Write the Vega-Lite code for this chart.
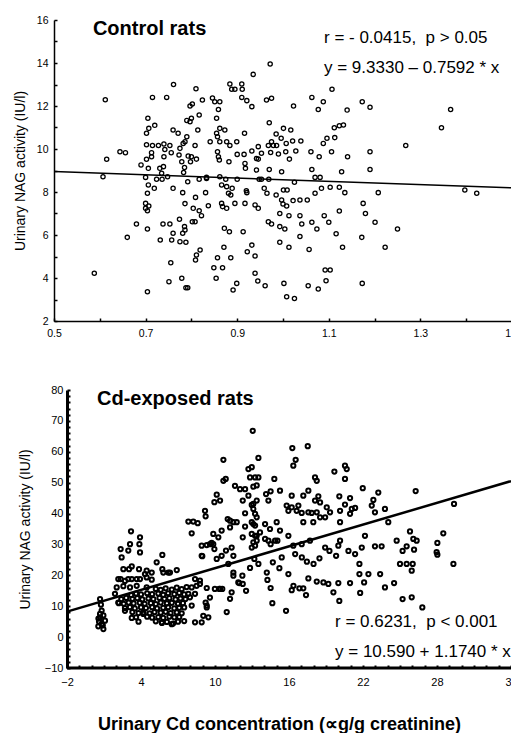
{
  "$schema": "https://vega.github.io/schema/vega-lite/v6.json",
  "padding": {"left": 13, "top": 15, "right": 0, "bottom": 0},
  "background": "white",
  "spacing": 45,
  "config": {
    "view": {"stroke": null},
    "font": "Liberation Sans",
    "axis": {"labelFont": "Liberation Sans", "titleFont": "Liberation Sans", "grid": false, "domainColor": "black", "tickColor": "black", "labelColor": "black", "titleColor": "black", "titleFontWeight": "normal"}
  },
  "datasets": {
    "control": [
      {"x":0.612,"y":12.29},{"x":0.615,"y":9.52},{"x":0.644,"y":9.87},{"x":0.656,"y":9.83},{"x":0.761,"y":13.0},{"x":0.715,"y":12.4},{"x":0.746,"y":12.4},{"x":0.705,"y":11.43},{"x":0.72,"y":11.1},{"x":0.707,"y":10.96},{"x":0.702,"y":10.73},{"x":0.702,"y":10.2},{"x":0.715,"y":10.16},{"x":0.728,"y":10.16},{"x":0.74,"y":10.23},{"x":0.753,"y":10.16},{"x":0.742,"y":9.98},{"x":0.756,"y":9.83},{"x":0.74,"y":9.64},{"x":0.713,"y":9.83},{"x":0.713,"y":9.64},{"x":0.702,"y":9.52},{"x":0.69,"y":9.26},{"x":0.706,"y":9.1},{"x":0.739,"y":9.18},{"x":0.731,"y":9.1},{"x":0.735,"y":8.87},{"x":0.775,"y":10.03},{"x":0.782,"y":10.26},{"x":0.786,"y":10.34},{"x":0.79,"y":10.57},{"x":0.773,"y":9.72},{"x":0.779,"y":9.41},{"x":0.785,"y":9.14},{"x":0.783,"y":8.91},{"x":0.76,"y":10.88},{"x":0.771,"y":10.73},{"x":0.79,"y":11.33},{"x":0.797,"y":11.27},{"x":0.8,"y":11.43},{"x":0.797,"y":12.0},{"x":0.802,"y":12.09},{"x":0.81,"y":12.8},{"x":0.817,"y":11.58},{"x":0.824,"y":12.28},{"x":0.814,"y":10.88},{"x":0.808,"y":10.16},{"x":0.793,"y":9.67},{"x":0.8,"y":9.64},{"x":0.811,"y":9.53},{"x":0.798,"y":9.41},{"x":0.833,"y":8.63},{"x":0.846,"y":12.37},{"x":0.851,"y":12.2},{"x":0.862,"y":12.2},{"x":0.859,"y":11.84},{"x":0.855,"y":11.43},{"x":0.841,"y":10.34},{"x":0.862,"y":10.34},{"x":0.855,"y":10.73},{"x":0.862,"y":10.96},{"x":0.873,"y":10.88},{"x":0.857,"y":10.57},{"x":0.877,"y":10.34},{"x":0.884,"y":10.16},{"x":0.857,"y":9.87},{"x":0.859,"y":9.64},{"x":0.861,"y":9.49},{"x":0.882,"y":9.41},{"x":0.884,"y":13.02},{"x":0.895,"y":12.78},{"x":0.91,"y":13.02},{"x":0.911,"y":12.78},{"x":0.888,"y":12.78},{"x":0.91,"y":12.4},{"x":0.921,"y":12.25},{"x":0.932,"y":11.97},{"x":0.935,"y":13.47},{"x":0.916,"y":10.73},{"x":0.899,"y":10.34},{"x":0.9,"y":9.75},{"x":0.915,"y":9.75},{"x":0.917,"y":9.33},{"x":0.918,"y":9.1},{"x":0.932,"y":9.91},{"x":0.946,"y":10.11},{"x":0.942,"y":9.56},
      {"x":0.607,"y":8.71},{"x":0.7,"y":8.68},{"x":0.706,"y":8.33},{"x":0.719,"y":8.17},{"x":0.724,"y":8.59},{"x":0.736,"y":8.59},{"x":0.748,"y":8.71},{"x":0.704,"y":7.94},{"x":0.7,"y":7.47},{"x":0.707,"y":7.35},{"x":0.7,"y":7.24},{"x":0.704,"y":7.13},{"x":0.68,"y":6.51},{"x":0.66,"y":5.89},{"x":0.704,"y":6.28},{"x":0.738,"y":6.51},{"x":0.753,"y":6.51},{"x":0.732,"y":5.77},{"x":0.76,"y":8.17},{"x":0.781,"y":7.97},{"x":0.786,"y":7.46},{"x":0.76,"y":6.08},{"x":0.757,"y":5.77},{"x":0.775,"y":5.69},{"x":0.788,"y":5.66},{"x":0.781,"y":6.08},{"x":0.774,"y":6.73},{"x":0.785,"y":6.39},{"x":0.786,"y":6.23},{"x":0.755,"y":4.71},{"x":0.751,"y":3.83},{"x":0.704,"y":3.36},{"x":0.588,"y":4.22},{"x":0.779,"y":3.99},{"x":0.788,"y":3.55},{"x":0.792,"y":3.55},{"x":0.809,"y":4.84},{"x":0.811,"y":5.07},{"x":0.819,"y":5.3},{"x":0.802,"y":6.62},{"x":0.808,"y":6.62},{"x":0.804,"y":7.24},{"x":0.817,"y":7.13},{"x":0.822,"y":6.9},{"x":0.809,"y":7.75},{"x":0.831,"y":7.97},{"x":0.837,"y":7.36},{"x":0.817,"y":8.59},{"x":0.833,"y":8.68},{"x":0.792,"y":8.48},{"x":0.849,"y":4.48},{"x":0.854,"y":3.99},{"x":0.868,"y":4.48},{"x":0.857,"y":4.94},{"x":0.891,"y":3.44},{"x":0.899,"y":3.75},{"x":0.886,"y":4.94},{"x":0.871,"y":5.43},{"x":0.883,"y":6.15},{"x":0.872,"y":6.31},{"x":0.862,"y":8.71},{"x":0.866,"y":8.33},{"x":0.877,"y":8.25},{"x":0.875,"y":8.59},{"x":0.866,"y":7.47},{"x":0.868,"y":7.32},{"x":0.877,"y":7.24},{"x":0.895,"y":7.47},{"x":0.881,"y":7.94},{"x":0.886,"y":7.86},{"x":0.889,"y":8.17},{"x":0.9,"y":8.59},{"x":0.917,"y":7.47},{"x":0.921,"y":7.97},{"x":0.92,"y":8.06},{"x":0.913,"y":6.15},{"x":0.932,"y":5.53},{"x":0.922,"y":5.22},{"x":0.939,"y":5.02},{"x":0.939,"y":4.22},{"x":0.945,"y":3.86},{"x":0.939,"y":7.4},{"x":0.946,"y":7.24},{"x":0.948,"y":8.59},
      {"x":0.972,"y":13.95},{"x":0.964,"y":12.28},{"x":0.975,"y":12.36},{"x":1.023,"y":12.0},{"x":1.063,"y":12.4},{"x":1.077,"y":11.84},{"x":1.088,"y":12.2},{"x":1.107,"y":12.78},{"x":1.14,"y":11.81},{"x":1.173,"y":12.2},{"x":1.19,"y":11.94},{"x":1.366,"y":11.84},{"x":1.346,"y":10.99},{"x":1.268,"y":10.16},{"x":0.97,"y":11.22},{"x":1.001,"y":10.96},{"x":1.017,"y":10.88},{"x":0.985,"y":10.7},{"x":0.996,"y":10.5},{"x":0.975,"y":10.34},{"x":1.007,"y":10.26},{"x":1.021,"y":10.37},{"x":1.039,"y":10.37},{"x":0.968,"y":10.16},{"x":0.979,"y":10.16},{"x":0.986,"y":10.16},{"x":0.953,"y":9.8},{"x":0.946,"y":9.53},{"x":0.973,"y":9.84},{"x":0.99,"y":9.77},{"x":1.006,"y":9.87},{"x":1.014,"y":9.53},{"x":1.028,"y":9.91},{"x":1.061,"y":9.87},{"x":1.079,"y":9.64},{"x":1.106,"y":9.87},{"x":1.141,"y":9.64},{"x":1.19,"y":9.87},{"x":1.088,"y":10.26},{"x":1.096,"y":10.5},{"x":1.113,"y":10.53},{"x":1.112,"y":10.99},{"x":1.123,"y":11.08},{"x":1.132,"y":11.12},{"x":1.063,"y":9.05},{"x":1.128,"y":8.94},{"x":1.19,"y":9.05},{"x":0.997,"y":8.94},{"x":0.942,"y":9.02},{"x":0.97,"y":9.05},
      {"x":1.397,"y":8.09},{"x":1.423,"y":7.94},{"x":1.208,"y":7.97},{"x":0.953,"y":8.59},{"x":0.969,"y":8.59},{"x":1.025,"y":8.45},{"x":1.07,"y":8.68},{"x":1.081,"y":8.68},{"x":1.084,"y":8.17},{"x":1.103,"y":8.22},{"x":1.123,"y":8.22},{"x":1.135,"y":7.97},{"x":0.959,"y":8.17},{"x":0.965,"y":7.94},{"x":0.985,"y":7.86},{"x":1.001,"y":8.09},{"x":1.009,"y":8.09},{"x":1.07,"y":7.94},{"x":0.997,"y":7.63},{"x":1.0,"y":7.44},{"x":1.008,"y":7.35},{"x":1.022,"y":7.6},{"x":1.037,"y":7.63},{"x":1.053,"y":7.63},{"x":0.993,"y":7.0},{"x":1.013,"y":6.9},{"x":1.037,"y":6.9},{"x":1.041,"y":6.51},{"x":1.063,"y":6.59},{"x":1.074,"y":6.28},{"x":1.09,"y":6.9},{"x":1.1,"y":6.59},{"x":1.123,"y":7.12},{"x":1.116,"y":6.06},{"x":0.968,"y":6.62},{"x":0.975,"y":6.51},{"x":0.993,"y":6.39},{"x":1.004,"y":6.28},{"x":1.175,"y":7.47},{"x":1.18,"y":7.0},{"x":1.201,"y":6.59},{"x":1.172,"y":5.89},{"x":1.25,"y":6.28},{"x":0.993,"y":5.66},{"x":1.013,"y":5.43},{"x":1.037,"y":5.93},{"x":1.057,"y":5.33},{"x":1.13,"y":5.43},{"x":1.223,"y":5.43},{"x":0.961,"y":3.64},{"x":1.002,"y":3.75},{"x":1.008,"y":3.13},{"x":1.025,"y":3.05},{"x":1.055,"y":3.64},{"x":1.077,"y":3.49},{"x":1.092,"y":4.37},{"x":1.103,"y":4.37},{"x":1.094,"y":3.87},{"x":1.173,"y":3.75}
    ],
    "cd": [
      {"x":0.68,"y":12.3},{"x":0.81,"y":8.6},{"x":0.68,"y":6.4},{"x":1.08,"y":5.3},{"x":0.54,"y":3.5},{"x":0.95,"y":2.6},{"x":0.81,"y":4.2},{"x":0.68,"y":7.5},{"x":0.95,"y":7.0},{"x":0.6,"y":5.0},{"x":0.9,"y":3.8},{"x":0.75,"y":10.5},{"x":0.55,"y":6.0},
      {"x":3.19,"y":34.25},{"x":3.92,"y":32.3},{"x":3.87,"y":30.1},{"x":3.92,"y":27.4},{"x":3.11,"y":30.1},{"x":2.35,"y":28.5},{"x":2.43,"y":25.8},{"x":2.57,"y":22.0},{"x":3.03,"y":22.0},{"x":3.25,"y":22.9},{"x":3.84,"y":22.0},{"x":4.46,"y":21.5},{"x":4.32,"y":20.4},{"x":2.35,"y":18.8},{"x":2.97,"y":18.8},{"x":3.65,"y":18.8},{"x":4.46,"y":19.3},{"x":5.27,"y":24.2},{"x":5.73,"y":26.6},{"x":5.73,"y":22.0},{"x":6.21,"y":20.9},{"x":6.9,"y":21.7},{"x":2.97,"y":28.0},{"x":4.87,"y":20.9},{"x":5.81,"y":20.9},{"x":6.35,"y":20.9},{"x":2.16,"y":18.8},{"x":2.7,"y":18.2},{"x":3.25,"y":18.8},{"x":3.92,"y":18.8},{"x":4.87,"y":18.6},{"x":2.03,"y":16.1},{"x":2.57,"y":16.5},{"x":3.11,"y":16.1},{"x":3.65,"y":16.6},{"x":4.46,"y":16.1},{"x":8.38,"y":18.8},{"x":8.78,"y":17.2},{"x":8.51,"y":16.6},{"x":8.11,"y":16.1},{"x":7.84,"y":14.0},
      {"x":7.84,"y":37.4},{"x":8.24,"y":37.4},{"x":8.6,"y":36.9},{"x":8.11,"y":33.6},{"x":9.19,"y":40.9},{"x":9.24,"y":39.1},{"x":10.68,"y":50.6},{"x":10.87,"y":51.2},{"x":10.14,"y":46.1},{"x":10.41,"y":44.2},{"x":9.95,"y":43.7},{"x":8.97,"y":26.2},{"x":9.33,"y":29.8},{"x":9.73,"y":30.5},{"x":9.95,"y":28.5},{"x":10.14,"y":25.3},{"x":10.54,"y":26.3},{"x":10.89,"y":28.0},{"x":11.35,"y":29.0},{"x":11.49,"y":26.3},{"x":11.08,"y":23.7},{"x":11.49,"y":20.9},{"x":12.22,"y":19.9},{"x":12.25,"y":17.2},{"x":11.97,"y":17.5},{"x":12.84,"y":22.4},{"x":13.19,"y":25.3},{"x":12.98,"y":37.2},{"x":13.38,"y":32.8},{"x":12.25,"y":32.3},{"x":11.62,"y":49.0},{"x":12.03,"y":47.9},{"x":12.25,"y":44.2},{"x":12.44,"y":47.9},{"x":13.11,"y":43.1},{"x":13.25,"y":39.9},{"x":12.44,"y":40.1},{"x":11.22,"y":37.7},{"x":11.76,"y":37.2},{"x":12.44,"y":35.8},{"x":12.98,"y":33.4},{"x":13.11,"y":30.7},{"x":12.98,"y":29.0},{"x":9.33,"y":15.9},{"x":9.59,"y":12.8},{"x":10.35,"y":15.6},{"x":10.59,"y":15.6},{"x":11.22,"y":12.4},{"x":10.95,"y":8.1},{"x":11.35,"y":14.5},{"x":9.24,"y":11.2},{"x":9.33,"y":9.6},{"x":10.68,"y":57.4},{"x":12.71,"y":45.8},{"x":12.84,"y":51.7},{"x":12.71,"y":54.4},{"x":13.38,"y":49.1},{"x":11.03,"y":38.2},{"x":11.49,"y":37.2},{"x":11.22,"y":35.5},{"x":10.54,"y":34.5},{"x":9.86,"y":33.4},{"x":10.27,"y":32.3},{"x":8.92,"y":29.6},{"x":9.86,"y":30.1},{"x":13.11,"y":41.5},{"x":13.38,"y":38.8},{"x":13.25,"y":36.1},{"x":8.92,"y":26.3},{"x":9.59,"y":30.1},{"x":10.41,"y":15.6},{"x":9.99,"y":15.6},{"x":11.49,"y":19.9},{"x":11.89,"y":17.7},{"x":12.52,"y":15.0},{"x":13.52,"y":23.7},{"x":9.05,"y":6.9},{"x":9.46,"y":6.4},{"x":9.33,"y":10.2},{"x":8.11,"y":10.2},{"x":7.97,"y":12.9},{"x":8.38,"y":14.0},{"x":8.78,"y":18.3},{"x":8.38,"y":4.8},{"x":8.92,"y":4.8},{"x":13.06,"y":66.8},
      {"x":13.25,"y":29.6},{"x":13.38,"y":31.2},{"x":14.33,"y":31.2},{"x":15.06,"y":31.2},{"x":14.51,"y":30.1},{"x":14.2,"y":20.9},{"x":14.25,"y":18.5},{"x":14.51,"y":15.9},{"x":14.65,"y":11.0},{"x":15.22,"y":22.3},{"x":15.76,"y":8.5},{"x":15.95,"y":20.4},{"x":14.69,"y":24.2},{"x":15.41,"y":25.8},{"x":16.5,"y":26.9},{"x":17.04,"y":25.8},{"x":17.45,"y":24.4},{"x":17.99,"y":23.7},{"x":18.47,"y":25.5},{"x":18.93,"y":29.0},{"x":19.28,"y":27.9},{"x":19.82,"y":26.3},{"x":20.0,"y":29.6},{"x":20.82,"y":27.9},{"x":21.36,"y":26.9},{"x":21.9,"y":29.0},{"x":22.97,"y":29.4},{"x":23.51,"y":29.4},{"x":24.73,"y":31.2},{"x":25.21,"y":27.9},{"x":25.54,"y":29.4},{"x":26.14,"y":28.3},{"x":26.35,"y":31.2},{"x":28.03,"y":30.5},{"x":28.03,"y":26.7},{"x":29.33,"y":23.7},{"x":21.71,"y":23.7},{"x":21.71,"y":20.4},{"x":22.44,"y":20.4},{"x":22.09,"y":17.7},{"x":21.77,"y":14.3},{"x":23.39,"y":20.4},{"x":23.78,"y":16.1},{"x":24.52,"y":17.5},{"x":25.0,"y":23.7},{"x":25.54,"y":23.7},{"x":26.03,"y":23.7},{"x":25.95,"y":21.5},{"x":25.21,"y":12.3},{"x":25.95,"y":12.9},{"x":26.81,"y":9.6},{"x":20.95,"y":17.5},{"x":20.0,"y":17.5},{"x":19.6,"y":14.5},{"x":20.08,"y":11.7},{"x":19.19,"y":17.2},{"x":18.79,"y":17.7},{"x":18.25,"y":18.0},{"x":17.57,"y":19.0},{"x":17.16,"y":15.8},{"x":17.38,"y":13.6},{"x":16.84,"y":15.8},{"x":16.36,"y":16.6},{"x":16.22,"y":15.2},
      {"x":16.27,"y":61.2},{"x":17.52,"y":61.8},{"x":13.52,"y":58.0},{"x":16.54,"y":57.4},{"x":16.35,"y":55.5},{"x":12.98,"y":55.0},{"x":13.25,"y":51.7},{"x":13.52,"y":51.7},{"x":13.11,"y":48.7},{"x":12.98,"y":42.8},{"x":13.38,"y":44.2},{"x":14.81,"y":51.2},{"x":14.51,"y":47.2},{"x":15.27,"y":47.4},{"x":14.14,"y":46.3},{"x":14.33,"y":44.2},{"x":18.11,"y":51.7},{"x":18.25,"y":50.6},{"x":19.68,"y":53.6},{"x":20.54,"y":55.5},{"x":20.68,"y":54.4},{"x":20.54,"y":51.2},{"x":21.98,"y":48.2},{"x":23.24,"y":46.8},{"x":26.27,"y":47.3},{"x":28.51,"y":33.6},{"x":29.38,"y":43.1},{"x":16.22,"y":45.8},{"x":17.16,"y":45.8},{"x":17.57,"y":47.4},{"x":18.38,"y":45.6},{"x":18.11,"y":44.2},{"x":18.52,"y":43.6},{"x":20.08,"y":45.6},{"x":20.95,"y":45.0},{"x":20.54,"y":42.9},{"x":21.09,"y":41.5},{"x":20.14,"y":40.9},{"x":21.36,"y":41.8},{"x":19.06,"y":42.0},{"x":19.33,"y":40.4},{"x":18.93,"y":38.8},{"x":18.25,"y":40.4},{"x":17.57,"y":40.4},{"x":17.03,"y":40.2},{"x":16.62,"y":40.9},{"x":16.22,"y":42.0},{"x":15.81,"y":42.6},{"x":15.95,"y":40.9},{"x":16.76,"y":42.6},{"x":17.84,"y":40.2},{"x":17.16,"y":37.2},{"x":17.97,"y":37.2},{"x":18.52,"y":38.8},{"x":20.14,"y":37.2},{"x":20.95,"y":39.9},{"x":22.84,"y":44.4},{"x":22.71,"y":42.6},{"x":22.97,"y":40.4},{"x":23.78,"y":41.5},{"x":24.05,"y":37.2},{"x":25.81,"y":34.2},{"x":26.08,"y":31.8},{"x":27.97,"y":27.5},{"x":13.11,"y":36.6},{"x":13.25,"y":32.8},{"x":13.65,"y":33.9},{"x":14.06,"y":36.6},{"x":14.46,"y":35.0},{"x":15.0,"y":37.2},{"x":15.27,"y":34.5},{"x":14.87,"y":31.2},{"x":14.06,"y":31.8},{"x":15.95,"y":32.8},{"x":16.35,"y":29.6},{"x":17.03,"y":30.1},{"x":17.7,"y":31.2},{"x":20.14,"y":31.2},{"x":22.16,"y":32.8},
      {"x":5.2,"y":15.6},{"x":5.6,"y":15.3},{"x":6.0,"y":15.8},{"x":6.5,"y":15.4},{"x":6.9,"y":16.0},{"x":7.3,"y":15.5},{"x":7.7,"y":16.2},
      {"x":3.2,"y":13.6},{"x":3.6,"y":14.1},{"x":4.0,"y":13.8},{"x":4.5,"y":14.2},{"x":4.9,"y":13.9},{"x":5.4,"y":14.1},{"x":5.8,"y":13.7},{"x":6.2,"y":14.2},{"x":6.7,"y":13.9},{"x":7.1,"y":14.3},{"x":7.5,"y":13.8},
      {"x":2.4,"y":12.3},{"x":2.8,"y":12.7},{"x":3.3,"y":12.4},{"x":3.7,"y":12.6},{"x":4.1,"y":12.2},{"x":4.6,"y":12.5},{"x":5.0,"y":12.3},{"x":5.5,"y":12.7},{"x":5.9,"y":12.4},{"x":6.3,"y":12.6},{"x":6.8,"y":12.2},{"x":7.2,"y":12.5},{"x":7.6,"y":12.3},
      {"x":2.2,"y":11.0},{"x":2.6,"y":10.8},{"x":3.0,"y":11.2},{"x":3.4,"y":10.9},{"x":3.9,"y":11.1},{"x":4.3,"y":10.8},{"x":4.8,"y":11.0},{"x":5.2,"y":10.7},{"x":5.6,"y":11.2},{"x":6.1,"y":10.9},{"x":6.5,"y":11.1},{"x":7.0,"y":10.8},{"x":7.4,"y":11.0},
      {"x":2.7,"y":9.4},{"x":3.1,"y":9.7},{"x":3.5,"y":9.3},{"x":4.0,"y":9.6},{"x":4.4,"y":9.4},{"x":4.9,"y":9.7},{"x":5.3,"y":9.3},{"x":5.8,"y":9.5},{"x":6.2,"y":9.7},{"x":6.7,"y":9.3},{"x":7.1,"y":9.5},{"x":7.5,"y":9.6},
      {"x":3.3,"y":8.1},{"x":3.8,"y":7.8},{"x":4.2,"y":8.0},{"x":4.7,"y":7.7},{"x":5.1,"y":8.1},{"x":5.6,"y":7.9},{"x":6.0,"y":8.2},{"x":6.4,"y":7.8},{"x":6.9,"y":8.0},{"x":7.3,"y":7.7},
      {"x":3.6,"y":6.4},{"x":4.5,"y":6.6},{"x":4.9,"y":6.3},{"x":5.4,"y":6.5},{"x":5.8,"y":6.2},{"x":6.3,"y":6.6},{"x":6.7,"y":6.4},{"x":7.1,"y":6.5},
      {"x":3.8,"y":5.0},{"x":5.2,"y":5.1},{"x":5.7,"y":4.6},{"x":6.1,"y":4.9},{"x":6.6,"y":4.4},{"x":7.0,"y":5.0},{"x":7.5,"y":5.2},
      {"x":3.25,"y":6.2},{"x":2.7,"y":8.5},{"x":2.16,"y":11.2},{"x":1.89,"y":14.0},{"x":4.19,"y":7.5},{"x":5.68,"y":4.8},{"x":6.49,"y":4.2}
    ]
  },
  "vconcat": [
    {
      "width": 458,
      "height": 301,
      "encoding": {
        "x": {"field": "x", "type": "quantitative", "scale": {"domain": [0.5, 1.5], "nice": false, "zero": false},
          "axis": {"title": null, "values": [0.5,0.6,0.7,0.8,0.9,1.0,1.1,1.2,1.3,1.4,1.5], "labelExpr": "round(datum.value*10)%2==1 ? format(datum.value, '.1f') : ''", "labelFlush": false, "labelFontSize": 10.5, "tickSize": -3, "tickWidth": 1.5, "domainWidth": 1.5, "labelPadding": 10, "labelOverlap": false}},
        "y": {"field": "y", "type": "quantitative", "scale": {"domain": [2, 16], "nice": false, "zero": false},
          "axis": {"title": "Urinary NAG activity (IU/l)", "titleFontSize": 14, "titlePadding": 9, "values": [2,3,4,5,6,7,8,9,10,11,12,13,14,15,16], "labelExpr": "datum.value%2==0 ? datum.label : ''", "labelFontSize": 10.5, "tickSize": -3, "tickWidth": 1.5, "domainWidth": 1.5, "labelPadding": 9, "labelOverlap": false}}
      },
      "layer": [
        {"data": {"name": "control"}, "mark": {"type": "point", "shape": "circle", "filled": false, "color": "black", "strokeWidth": 1.3, "size": 18, "opacity": 1}},
        {"data": {"values": [{"x": 0.5, "y": 8.953}, {"x": 1.5, "y": 8.194}]}, "mark": {"type": "line", "color": "black", "strokeWidth": 1.5}},
        {"data": {"values": [{"x": 0.585, "y": 15.6, "t": "Control rats"}]}, "mark": {"type": "text", "align": "left", "baseline": "middle", "fontSize": 20, "fontWeight": "bold", "font": "Liberation Sans", "color": "black"}, "encoding": {"text": {"field": "t"}}},
        {"data": {"values": [{"x": 1.0895, "y": 15.15, "t": "r = - 0.0415,\u00a0 p > 0.05"}, {"x": 1.0895, "y": 13.78, "t": "y = 9.3330 – 0.7592 * x"}]}, "mark": {"type": "text", "align": "left", "baseline": "middle", "fontSize": 17, "font": "Liberation Sans", "color": "black"}, "encoding": {"text": {"field": "t"}}}
      ]
    },
    {
      "width": 457,
      "height": 278,
      "encoding": {
        "x": {"field": "x", "type": "quantitative", "scale": {"domain": [-3.054, 34], "nice": false, "zero": false},
          "axis": {"title": "Urinary Cd concentration (\u221dg/g creatinine)", "titleFontSize": 18, "titleFontWeight": "bold", "titlePadding": 28, "titleX": 225, "domain": false, "values": [-2,-1,0,1,2,3,4,5,6,7,8,9,10,11,12,13,14,15,16,17,18,19,20,21,22,23,24,25,26,27,28,29,30,31,32,33,34], "labelExpr": "(datum.value+2)%6==0 ? datum.label : ''", "labelFlush": false, "labelFontSize": 11, "tickSize": -3, "tickWidth": 2, "labelPadding": 11, "labelOverlap": false}},
        "y": {"field": "y", "type": "quantitative", "scale": {"domain": [-10, 80], "nice": false, "zero": false},
          "axis": {"title": "Urinary NAG activity (IU/l)", "offset": -13, "titleFontSize": 14, "titlePadding": 12, "values": [-10,-8,-6,-4,-2,0,2,4,6,8,10,12,14,16,18,20,22,24,26,28,30,32,34,36,38,40,42,44,46,48,50,52,54,56,58,60,62,64,66,68,70,72,74,76,78,80], "labelExpr": "datum.value%10==0 ? datum.label : ''", "labelFontSize": 11, "tickSize": -3, "tickWidth": 2, "domainWidth": 3, "labelPadding": 7, "labelOverlap": false}}
      },
      "layer": [
        {"data": {"name": "cd"}, "mark": {"type": "point", "shape": "circle", "filled": false, "color": "black", "strokeWidth": 2, "size": 18, "opacity": 1}},
        {"data": {"values": [{"x": -2, "x2": 34, "y": -10}]}, "mark": {"type": "rule", "color": "black", "strokeWidth": 3}, "encoding": {"x2": {"field": "x2"}}},
        {"data": {"values": [{"x": -2, "y": 8.242}, {"x": 34, "y": 50.506}]}, "mark": {"type": "line", "color": "black", "strokeWidth": 2.5}},
        {"data": {"values": [{"x": 0.433, "y": 77.1, "t": "Cd-exposed rats"}]}, "mark": {"type": "text", "align": "left", "baseline": "middle", "fontSize": 20, "fontWeight": "bold", "font": "Liberation Sans", "color": "black"}, "encoding": {"text": {"field": "t"}}},
        {"data": {"values": [{"x": 19.73, "y": 4.9, "t": "r = 0.6231,\u00a0 p < 0.001"}, {"x": 19.73, "y": -4.98, "t": "y = 10.590 + 1.1740 * x"}]}, "mark": {"type": "text", "align": "left", "baseline": "middle", "fontSize": 17, "font": "Liberation Sans", "color": "black"}, "encoding": {"text": {"field": "t"}}}
      ]
    }
  ]
}
